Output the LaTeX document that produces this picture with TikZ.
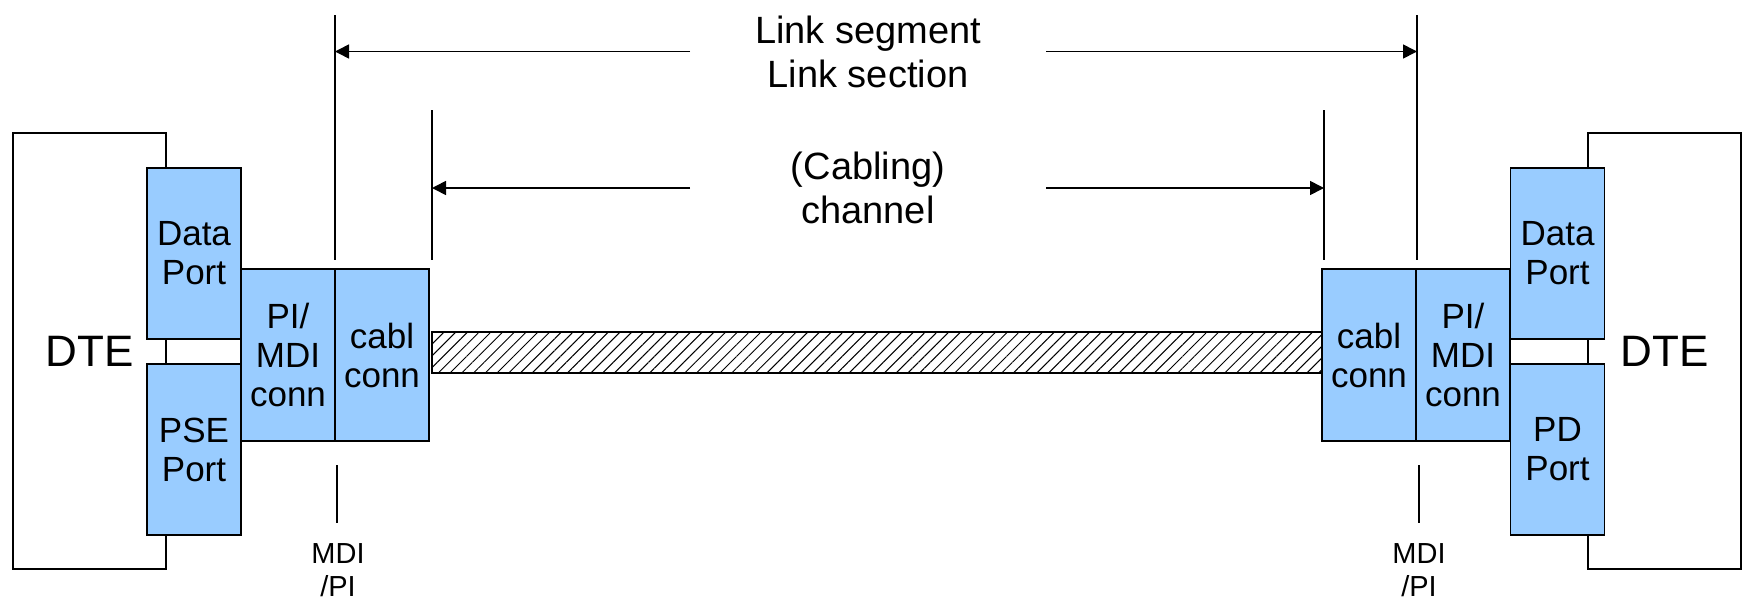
\documentclass[tikz,border=0pt]{standalone}
\usepackage{fontspec}
\setmainfont{Liberation Sans}
\usepackage{tikz}
\usetikzlibrary{arrows.meta, patterns.meta}
\usepackage{xcolor}
\definecolor{portblue}{RGB}{153,204,255}

\begin{document}
\begin{tikzpicture}[x=1pt, y=-1pt,
    dtebox/.style={draw, line width=1.6pt, minimum width=153pt, minimum height=436pt, inner sep=0pt, font=\fontsize{44}{50}\selectfont},
    portbox/.style={draw, fill=portblue, line width=1.6pt, minimum width=94pt, align=center, inner sep=0pt, font=\fontsize{35}{39}\selectfont},
    cablebar/.style={draw, line width=1.2pt, pattern={Lines[angle=45, distance=8.3pt, line width=1pt]}, minimum width=890pt, minimum height=41pt, inner sep=0pt},
    dimline/.style={line width=1.6pt},
    dimarrow/.style={line width=1.6pt, -{Triangle[length=14pt, width=14pt]}},
    toplabel/.style={align=center, inner sep=0pt, font=\fontsize{38}{44}\selectfont},
    mdilabel/.style={align=center, inner sep=0pt, font=\fontsize{29}{33}\selectfont}]

    \useasboundingbox (0,0) rectangle (1745,600);

    % Draw the two DTE boxes
    \node[dtebox] (dteL) at (89.5,351) {DTE};
    \node[dtebox] (dteR) at (1664.5,351) {DTE};

    % Draw the ports and connectors on the left
    \node[portbox, minimum height=171pt] (dataL) at (194,253.5) {Data\\Port};
    \node[portbox, minimum height=171pt] (pseL) at (194,449.5) {PSE\\Port};
    \node[portbox, minimum height=172pt] (mdiL) at (288,355) {PI/\\MDI\\conn};
    \node[portbox, minimum height=172pt] (cablL) at (382,355) {cabl\\conn};

    % Draw the ports and connectors on the right
    \node[portbox, minimum height=172pt] (cablR) at (1369,355) {cabl\\conn};
    \node[portbox, minimum height=172pt] (mdiR) at (1463,355) {PI/\\MDI\\conn};
    \node[portbox, minimum height=171pt] (dataR) at (1557.5,253.5) {Data\\Port};
    \node[portbox, minimum height=171pt] (pdR) at (1557.5,449.5) {PD\\Port};

    % Draw the hatched cable between the connectors
    \node[cablebar] (cable) at (877,352.5) {};

    % Labels at the top
    \node[toplabel] (seg) at (868,51.5) {Link segment\\Link section};
    \node[toplabel] (chan) at (868,188) {(Cabling)\\channel};

    % End points of the dimension lines
    \coordinate (segL) at (335,15);
    \coordinate (segLend) at (335,260);
    \coordinate (segR) at (1417,15);
    \coordinate (segRend) at (1417,260);
    \coordinate (chanL) at (432,110);
    \coordinate (chanLend) at (432,260);
    \coordinate (chanR) at (1324,110);
    \coordinate (chanRend) at (1324,260);
    \coordinate (mdiLa) at (337,465);
    \coordinate (mdiLb) at (337,523);
    \coordinate (mdiRa) at (1419,465);
    \coordinate (mdiRb) at (1419,523);

    % Draw the dimension lines
    \draw[dimline] (segL) -- (segLend);
    \draw[dimline] (segR) -- (segRend);
    \draw[dimline] (chanL) -- (chanLend);
    \draw[dimline] (chanR) -- (chanRend);
    \draw[dimline] (mdiLa) -- (mdiLb);
    \draw[dimline] (mdiRa) -- (mdiRb);

    % Draw the arrows from the labels to the dimension lines
    \draw[dimarrow] ([xshift=-178pt]seg.center) -- (seg.center -| segL);
    \draw[dimarrow] ([xshift=178pt]seg.center) -- (seg.center -| segR);
    \draw[dimarrow] ([xshift=-178pt]chan.center) -- (chan.center -| chanL);
    \draw[dimarrow] ([xshift=178pt]chan.center) -- (chan.center -| chanR);

    % Labels at the bottom
    \node[mdilabel] (mdiLtext) at (338,570.5) {MDI\\/PI};
    \node[mdilabel] (mdiRtext) at (1419,570.5) {MDI\\/PI};

\end{tikzpicture}
\end{document}
